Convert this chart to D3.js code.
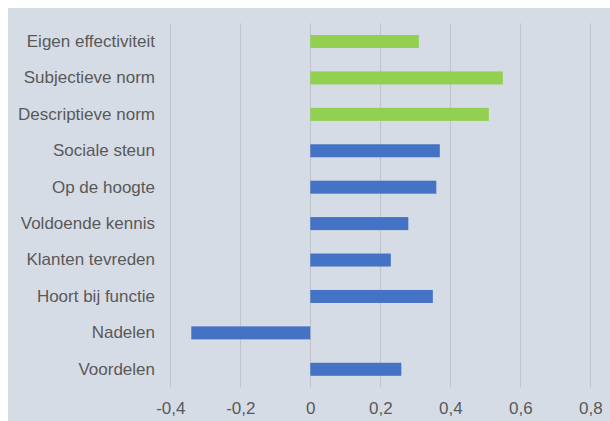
<!DOCTYPE html>
<html>
<head>
<meta charset="utf-8">
<script src="https://cdn.jsdelivr.net/npm/d3@7"></script>
<style>
  html, body { margin: 0; padding: 0; background: #ffffff; }
  svg { display: block; }
  text { font-family: "Liberation Sans", Arial, sans-serif; fill: #595959; }
</style>
</head>
<body>
<svg id="chart" width="610" height="421"></svg>
<script>
// Factors, listed top to bottom
const categories = [
  "Eigen effectiviteit",
  "Subjectieve norm",
  "Descriptieve norm",
  "Sociale steun",
  "Op de hoogte ",
  "Voldoende kennis",
  "Klanten tevreden",
  "Hoort bij functie",
  "Nadelen",
  "Voordelen"
];
const values = [0.31, 0.55, 0.51, 0.37, 0.36, 0.28, 0.23, 0.35, -0.34, 0.26];
const groups = ["norm", "norm", "norm", "base", "base", "base", "base", "base", "base", "base"];
const xTicks = [-0.4, -0.2, 0, 0.2, 0.4, 0.6, 0.8];

const colors = { norm: "#92D050", base: "#4472C4" };

const svg = d3.select("#chart");
const W = 610, H = 421;

// panel background
svg.append("rect")
  .attr("x", 8).attr("y", 8)
  .attr("width", W - 8).attr("height", H - 8)
  .attr("fill", "#D6DCE5");

const plot = { left: 170.3, right: 590.3, top: 23.3, bottom: 387.5 };

const x = d3.scaleLinear().domain([-0.4, 0.8]).range([plot.left, plot.right]);
const y = d3.scaleBand()
  .domain(categories)
  .range([plot.top, plot.bottom])
  .paddingInner(0.643)
  .paddingOuter(0.3215);

// vertical gridlines
svg.append("g")
  .selectAll("line")
  .data(xTicks)
  .join("line")
  .attr("x1", d => Math.round(x(d)) + 0.5)
  .attr("x2", d => Math.round(x(d)) + 0.5)
  .attr("y1", plot.top)
  .attr("y2", plot.bottom)
  .attr("stroke", "#C2C6CC")
  .attr("stroke-width", 1.2);

// bars
svg.append("g")
  .selectAll("rect")
  .data(categories)
  .join("rect")
  .attr("x", (d, i) => x(Math.min(0, values[i])))
  .attr("y", d => y(d))
  .attr("width", (d, i) => Math.abs(x(values[i]) - x(0)))
  .attr("height", y.bandwidth())
  .attr("fill", (d, i) => colors[groups[i]]);

// number format with decimal comma
const nl = d3.formatLocale({
  decimal: ",",
  thousands: ".",
  grouping: [3],
  currency: ["€ ", ""],
  minus: "-"
});
const fmt = nl.format("~g");

// x axis labels
const xAxis = svg.append("g")
  .attr("transform", `translate(0,${plot.bottom})`)
  .call(d3.axisBottom(x).tickValues(xTicks).tickFormat(fmt).tickSize(0).tickPadding(14));
xAxis.select(".domain").remove();
xAxis.selectAll("text")
  .attr("font-size", "17px")
  .attr("font-family", "Liberation Sans, Arial, sans-serif")
  .attr("fill", "#595959");

// category labels
const yAxis = svg.append("g")
  .attr("transform", "translate(155,0)")
  .call(d3.axisLeft(y).tickSize(0).tickPadding(0));
yAxis.select(".domain").remove();
yAxis.selectAll("text")
  .attr("font-size", "17px")
  .attr("font-family", "Liberation Sans, Arial, sans-serif")
  .attr("fill", "#595959");
</script>
</body>
</html>
